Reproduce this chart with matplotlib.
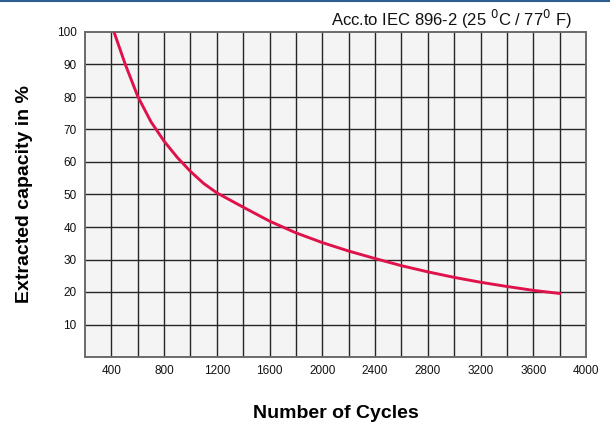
import numpy as np
import matplotlib
matplotlib.use('Agg')
import matplotlib.pyplot as plt
from matplotlib.lines import Line2D

plt.rcParams['font.family'] = ['Liberation Sans Narrow', 'Liberation Sans', 'DejaVu Sans']

# values
cycles = [420, 506, 600, 700, 800, 900, 1000, 1100, 1200, 1400, 1600, 1800,
          2000, 2200, 2400, 2600, 2800, 3000, 3200, 3400, 3600, 3810]
capacity = [100, 90, 80.2, 72.4, 66.4, 61.4, 57.1, 53.4, 50.5, 46.1, 41.8, 38.2,
            35.2, 32.6, 30.3, 28.1, 26.2, 24.5, 23.0, 21.7, 20.5, 19.5]

x_ticks = list(range(400, 4001, 400))
y_ticks = list(range(10, 101, 10))

fig = plt.figure(figsize=(6.1, 4.23), dpi=100)
ax = fig.add_axes([85 / 610, 66 / 423, 501 / 610, 325 / 423])
ax.set_facecolor('#f4f4f4')
ax.set_xlim(200, 4000)
ax.set_ylim(0, 100)

# grid every 200 cycles / 10 %
for gx in range(400, 4000, 200):
    ax.axvline(gx, color='#262626', lw=1.0, zorder=1)
for gy in range(10, 100, 10):
    ax.axhline(gy, color='#262626', lw=1.0, zorder=1)

ax.plot(cycles, capacity, color='#e0124c', lw=2.1, zorder=3,
        solid_capstyle='butt', solid_joinstyle='round')

ax.set_xticks(x_ticks)
ax.set_yticks(y_ticks)
ax.tick_params(length=0, labelsize=8.5, colors='#111111', pad=6)
for s in ax.spines.values():
    s.set_color('#6a6a6a')
    s.set_linewidth(1.4)

ax.set_ylabel('Extracted capacity in %', fontsize=14, fontweight='bold',
              family=['Liberation Sans', 'DejaVu Sans'], labelpad=17)
ax.set_xlabel('Number of Cycles', fontsize=14, fontweight='bold',
              family=['Liberation Sans', 'DejaVu Sans'], labelpad=20)

fig.text(572 / 610, 1 - 19 / 423, r'Acc.to IEC 896-2 (25 $^{0}$C / 77$^{0}$ F)',
         ha='right', va='center', fontsize=12,
         family=['Liberation Sans', 'DejaVu Sans'], color='#111111')

# thin blue rule across the top
fig.add_artist(Line2D([0, 1], [1 - 1 / 423, 1 - 1 / 423], transform=fig.transFigure,
                      color='#2c5f8f', lw=1.5))

fig.savefig('out.png', dpi=100)
